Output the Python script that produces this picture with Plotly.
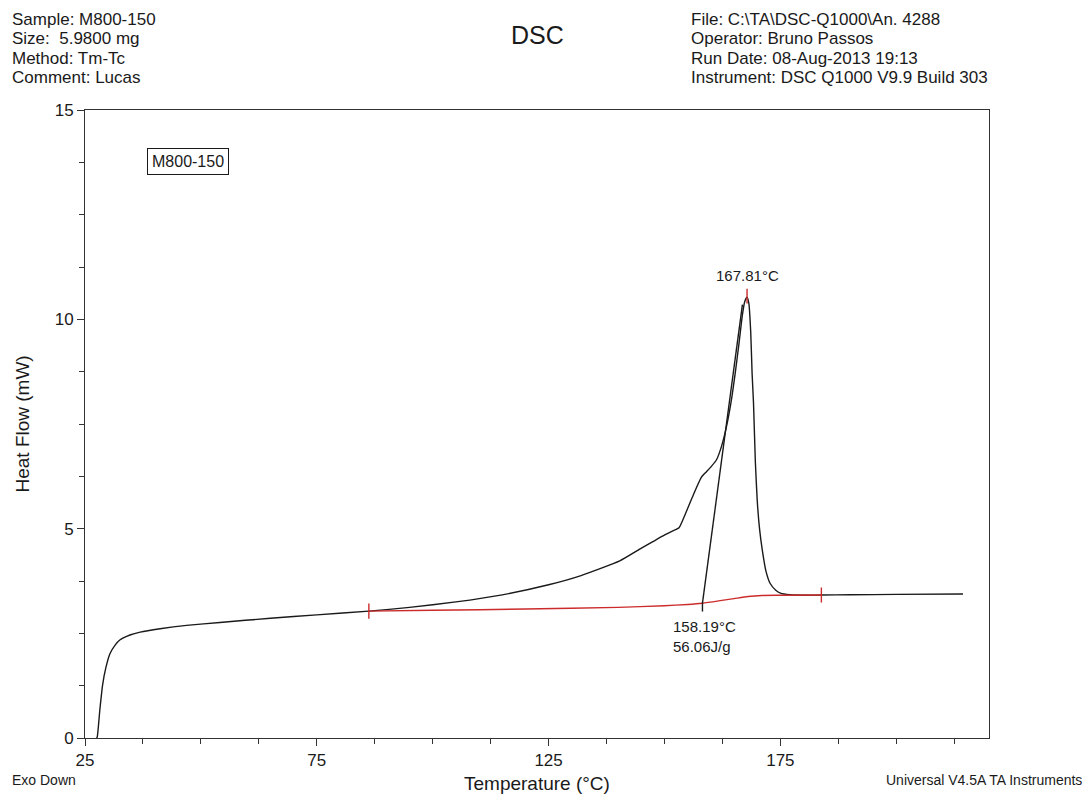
import numpy as np
import plotly.graph_objects as go

# ---- DSC trace: temperature (°C) vs heat flow (mW) ----
temp_c = [27.5, 27.65, 28.2, 28.8, 29.5, 30.4, 31.5, 32.5, 34.7, 36.9, 41.2, 46.9,
          54.1, 65.0, 75.0, 86.23, 95.0, 105.0, 115.0, 125.0, 132.0, 140.35, 144.66,
          147.5, 150.05, 151.8, 153.14, 154.5, 156.0, 157.97, 159.05, 160.2, 161.2,
          162.28, 163.36, 164.43, 165.3, 166.1, 166.8, 167.3, 167.81, 168.2, 168.6,
          168.9, 169.2, 169.6, 170.0, 170.5, 171.1, 171.9, 172.8, 174.0, 175.0,
          177.1, 180.0, 183.84, 190.0, 200.0, 214.4]
heat_flow_mw = [0.0, 0.03, 0.67, 1.27, 1.68, 2.02, 2.22, 2.34, 2.46, 2.53, 2.61, 2.69,
                2.76, 2.86, 2.94, 3.03, 3.12, 3.25, 3.42, 3.66, 3.88, 4.23, 4.51,
                4.69, 4.85, 4.95, 5.02, 5.35, 5.75, 6.23, 6.36, 6.50, 6.64,
                6.96, 7.43, 8.07, 8.75, 9.45, 10.1, 10.42, 10.53, 10.38, 9.7,
                8.7, 8.0, 6.6, 5.68, 5.0, 4.49, 3.98, 3.69, 3.53, 3.46,
                3.42, 3.41, 3.415, 3.42, 3.43, 3.44]

# ---- sigmoidal integration baseline ----
base_temp = [86.23, 100.0, 120.0, 140.0, 150.0, 155.0, 158.19, 162.0, 165.0,
             168.0, 171.0, 175.0, 183.84]
base_flow = [3.03, 3.05, 3.08, 3.12, 3.16, 3.19, 3.22, 3.28, 3.33,
             3.38, 3.405, 3.41, 3.415]

# ---- analysis results ----
peak_temp = 167.81
peak_flow = 10.53
onset_temp = 158.19
enthalpy_jg = 56.06
tangent_slope = 0.827      # mW/°C, leading-edge tangent
tangent_top_flow = 10.35

sample_name = "M800-150"
header_left = ["Sample: M800-150", "Size:  5.9800 mg", "Method: Tm-Tc", "Comment: Lucas"]
header_right = ["File: C:\\TA\\DSC-Q1000\\An. 4288", "Operator: Bruno Passos",
                "Run Date: 08-Aug-2013 19:13", "Instrument: DSC Q1000 V9.9 Build 303"]

x_range = [25, 220]
y_range = [0, 15]

FONT = "Liberation Sans, Arial, sans-serif"
BLACK = "#1a1a1a"
RED = "#cc2b2b"

# page geometry (pixels)
W, H = 1089, 796
ML, MR, MT, MB = 85, 99.5, 110, 58
PW, PH = W - ML - MR, H - MT - MB


def px(xp):
    return (xp - ML) / PW


def py(yp):
    return (H - MB - yp) / PH


onset_flow = float(np.interp(onset_temp, base_temp, base_flow))
tan_x = [onset_temp, onset_temp + (tangent_top_flow - onset_flow) / tangent_slope]
tan_y = [onset_flow, tangent_top_flow]

fig = go.Figure()

fig.add_trace(go.Scatter(x=temp_c, y=heat_flow_mw, mode="lines",
                         line=dict(color=BLACK, width=1.4, shape="spline", smoothing=0.5),
                         hoverinfo="skip", showlegend=False))
fig.add_trace(go.Scatter(x=base_temp, y=base_flow, mode="lines",
                         line=dict(color=RED, width=1.4, shape="spline", smoothing=0.6),
                         hoverinfo="skip", showlegend=False))
fig.add_trace(go.Scatter(x=tan_x, y=tan_y, mode="lines",
                         line=dict(color=BLACK, width=1.4),
                         hoverinfo="skip", showlegend=False))

tick_half = 0.18
shapes = [
    # baseline limits
    dict(type="line", x0=base_temp[0], x1=base_temp[0],
         y0=base_flow[0] - tick_half, y1=base_flow[0] + tick_half,
         line=dict(color=RED, width=1.4)),
    dict(type="line", x0=base_temp[-1], x1=base_temp[-1],
         y0=base_flow[-1] - tick_half, y1=base_flow[-1] + tick_half,
         line=dict(color=RED, width=1.4)),
    # peak marker
    dict(type="line", x0=peak_temp, x1=peak_temp,
         y0=peak_flow - 0.15, y1=peak_flow + 0.2,
         line=dict(color=RED, width=1.4)),
    # onset marker
    dict(type="line", x0=onset_temp, x1=onset_temp,
         y0=onset_flow - 0.2, y1=onset_flow,
         line=dict(color=BLACK, width=1.4)),
]

annotations = []
for i, t in enumerate(header_left):
    annotations.append(dict(text=t, xref="paper", yref="paper", x=px(10), y=py(19 + 19.5 * i),
                            xanchor="left", yanchor="middle", showarrow=False,
                            font=dict(family=FONT, size=17, color=BLACK)))
for i, t in enumerate(header_right):
    annotations.append(dict(text=t, xref="paper", yref="paper", x=px(689), y=py(19 + 19.5 * i),
                            xanchor="left", yanchor="middle", showarrow=False,
                            font=dict(family=FONT, size=17, color=BLACK)))

annotations += [
    dict(text="DSC", xref="paper", yref="paper", x=px(538), y=py(35),
         xanchor="center", yanchor="middle", showarrow=False,
         font=dict(family=FONT, size=25, color=BLACK)),
    dict(text=sample_name, xref="paper", yref="paper", x=px(188), y=py(161.7),
         xanchor="center", yanchor="middle", showarrow=False,
         bordercolor=BLACK, borderwidth=1, borderpad=4, bgcolor="white",
         font=dict(family=FONT, size=16, color=BLACK)),
    dict(text=f"{peak_temp:.2f}°C", x=peak_temp, y=peak_flow, xanchor="center",
         yanchor="bottom", yshift=11, showarrow=False,
         font=dict(family=FONT, size=15, color=BLACK)),
    dict(text=f"{onset_temp:.2f}°C<br>{enthalpy_jg:.2f}J/g", x=onset_temp, y=onset_flow,
         xanchor="left", yanchor="top", xshift=-31, yshift=-13, align="left",
         showarrow=False, font=dict(family=FONT, size=15, color=BLACK)),
    dict(text="Heat Flow (mW)", xref="paper", yref="paper", x=px(21.5), y=0.5,
         xanchor="center", yanchor="middle", textangle=-90, showarrow=False,
         font=dict(family=FONT, size=19, color=BLACK)),
    dict(text="Temperature (°C)", xref="paper", yref="paper", x=0.5, y=py(783),
         xanchor="center", yanchor="middle", showarrow=False,
         font=dict(family=FONT, size=19, color=BLACK)),
    dict(text="Exo Down", xref="paper", yref="paper", x=px(10), y=py(780),
         xanchor="left", yanchor="middle", showarrow=False,
         font=dict(family=FONT, size=14, color=BLACK)),
    dict(text="Universal V4.5A TA Instruments", xref="paper", yref="paper", x=px(1085), y=py(780),
         xanchor="right", yanchor="middle", showarrow=False,
         font=dict(family=FONT, size=14, color=BLACK)),
]

axis_common = dict(showline=True, linecolor="#333333", linewidth=1, mirror=True,
                   showgrid=False, zeroline=False, ticks="outside", tickcolor="#333333",
                   tickwidth=1, ticklen=7,
                   tickfont=dict(family=FONT, size=17, color=BLACK))

fig.update_layout(
    width=W, height=H,
    margin=dict(l=ML, r=MR, t=MT, b=MB),
    paper_bgcolor="white", plot_bgcolor="white",
    xaxis=dict(range=x_range, tick0=25, dtick=50,
               minor=dict(tick0=25, dtick=12.5, ticks="outside", ticklen=5,
                          tickcolor="#333333", tickwidth=1),
               **axis_common),
    yaxis=dict(range=y_range, tick0=0, dtick=5,
               minor=dict(tick0=0, dtick=1.25, ticks="outside", ticklen=5,
                          tickcolor="#333333", tickwidth=1),
               **axis_common),
    shapes=shapes,
    annotations=annotations,
    showlegend=False,
)

fig.write_html("out.html")
